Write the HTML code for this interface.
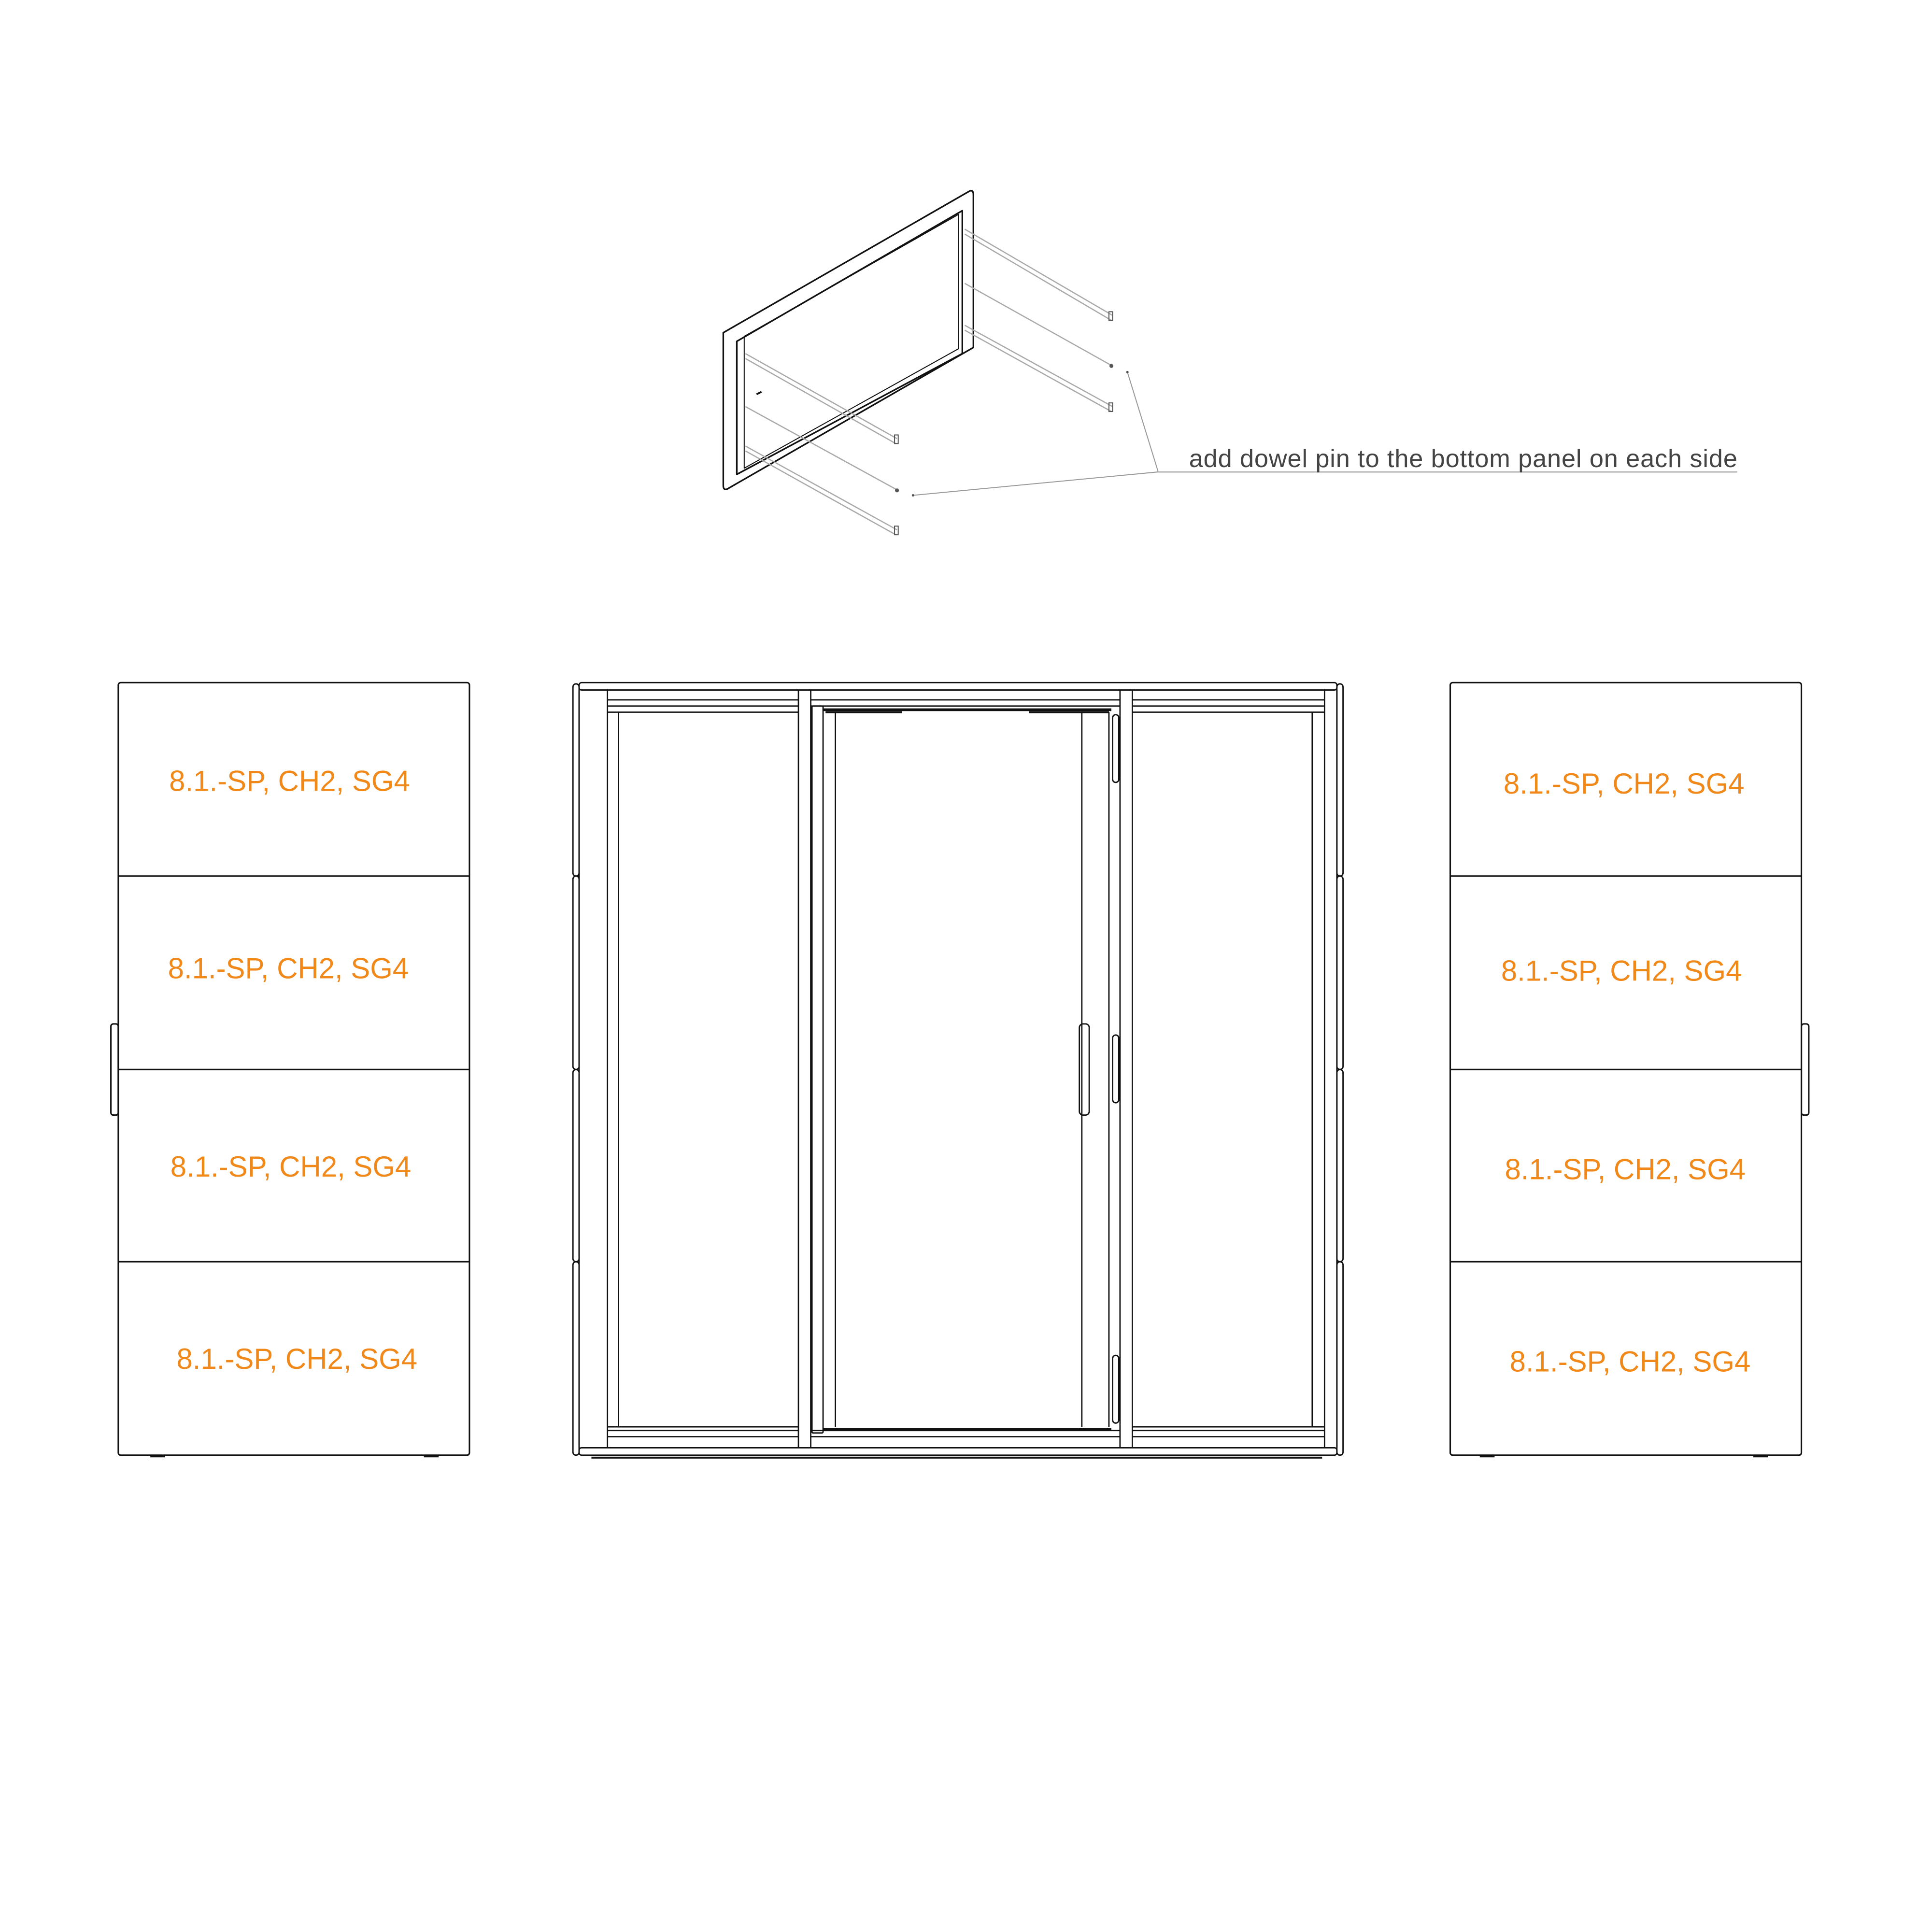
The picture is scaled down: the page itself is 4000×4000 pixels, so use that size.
<!DOCTYPE html>
<html><head><meta charset="utf-8"><style>html,body{margin:0;padding:0;background:#fff}svg{display:block}</style></head>
<body>
<svg width="4000" height="4000" viewBox="0 0 1568 1568" xmlns="http://www.w3.org/2000/svg">
<rect width="1568" height="1568" fill="#fff"/>
<g fill="none" stroke="#111" stroke-width="1.3" stroke-linejoin="round">
<path d="M587 270 L787 155 Q790 154 790 158 L790 282 L590 397 Q587 398 587 394 Z"/>
<path d="M598 277 L781 171 L781 287 L598 385 Z"/>
<path d="M604 273 L778 174 L778 283 L604 380 Z" stroke-width="0.8"/>
<path d="M614 320 L618 318" stroke-width="1.5"/>
</g>
<g stroke="#aaa" stroke-width="1" fill="none">
<path d="M605 287 L728 356 M605 291 L727 360"/>
<path d="M605 330 L727 397"/>
<path d="M605 362 L728 430 M605 366 L727 434"/>
<path d="M783 186 L903 256 M783 190 L902 260"/>
<path d="M783 230 L901 296"/>
<path d="M783 264 L903 330 M783 268 L902 334"/>
<path d="M741 402 L940 383 L915 302" stroke="#999" stroke-width="0.8"/>
<path d="M940 383 L1410 383" stroke="#bbb" stroke-width="1.2"/>
</g>
<g fill="none" stroke="#555" stroke-width="0.8">
<rect x="726" y="353" width="3" height="7"/><rect x="726" y="427" width="3" height="7"/>
<rect x="900" y="253" width="3" height="7"/><rect x="900" y="327" width="3" height="7"/>
</g>
<g fill="#555"><circle cx="728" cy="398" r="1.6"/><circle cx="902" cy="297" r="1.6"/><circle cx="741" cy="402" r="1"/><circle cx="915" cy="302" r="1"/></g>
<text x="965" y="379" font-family="Liberation Sans, sans-serif" font-size="20.5" fill="#444" textLength="445">add dowel pin to the bottom panel on each side</text>

<g fill="none" stroke="#111" stroke-width="1.2">
<rect x="96" y="554" width="285" height="627" rx="2"/>
<path d="M96 711 H381 M96 868 H381 M96 1024 H381"/>
<rect x="90" y="831" width="6" height="74" rx="2"/>
<rect x="1177" y="554" width="285" height="627" rx="2"/>
<path d="M1177 711 H1462 M1177 868 H1462 M1177 1024 H1462"/>
<rect x="1462" y="831" width="6" height="74" rx="2"/>
<path d="M122 1182 H134 M344 1182 H356 M1201 1182 H1213 M1423 1182 H1435" stroke-width="1.5"/>
</g>
<g font-family="Liberation Sans, sans-serif" font-size="23.5" fill="#F0891A" text-anchor="middle">
<text x="235" y="642">8.1.-SP, CH2, SG4</text>
<text x="234" y="794">8.1.-SP, CH2, SG4</text>
<text x="236" y="955">8.1.-SP, CH2, SG4</text>
<text x="241" y="1111">8.1.-SP, CH2, SG4</text>
<text x="1318" y="644">8.1.-SP, CH2, SG4</text>
<text x="1316" y="796">8.1.-SP, CH2, SG4</text>
<text x="1319" y="957">8.1.-SP, CH2, SG4</text>
<text x="1323" y="1113">8.1.-SP, CH2, SG4</text>
</g>

<g fill="none" stroke="#111" stroke-width="1.1">
<rect x="470" y="554" width="615" height="6" rx="2"/>
<rect x="470" y="1175" width="615" height="6" rx="2"/>
<path d="M480 1183 H1073" stroke-width="1.6"/>
<path d="M470 560 V1175 M1085 560 V1175"/>
<rect x="465" y="555" width="5" height="156" rx="2.5"/><rect x="465" y="711" width="5" height="157" rx="2.5"/><rect x="465" y="868" width="5" height="156" rx="2.5"/><rect x="465" y="1024" width="5" height="157" rx="2.5"/>
<rect x="1085" y="555" width="5" height="156" rx="2.5"/><rect x="1085" y="711" width="5" height="157" rx="2.5"/><rect x="1085" y="868" width="5" height="156" rx="2.5"/><rect x="1085" y="1024" width="5" height="157" rx="2.5"/>
<path d="M493 560 V1175 M502 578 V1158 M1065 578 V1158 M1075 560 V1175"/>
<path d="M648 560 V1175 M658 560 V1175 M909 560 V1175 M919 560 V1175"/>
<path d="M493 568 H648 M658 568 H909 M919 568 H1075"/>
<path d="M493 573 H648 M658 573 H909 M919 573 H1075"/>
<path d="M493 578 H648 M919 578 H1075"/>
<path d="M493 1158 H648 M919 1158 H1075"/>
<path d="M493 1161 H648 M658 1161 H909 M919 1161 H1075"/>
<path d="M493 1166 H648 M658 1166 H909 M919 1166 H1075"/>
<rect x="659" y="573" width="9" height="590" rx="1"/>
<path d="M668 576 H902 M668 1160 H902" stroke-width="2.2"/>
<path d="M678 578 V1158 M878 578 V1158 M900 578 V1158"/>
<rect x="903" y="580" width="5" height="55" rx="2.5"/>
<rect x="903" y="840" width="5" height="55" rx="2.5"/>
<rect x="903" y="1100" width="5" height="55" rx="2.5"/>
<rect x="876" y="831" width="8" height="74" rx="3"/>
<path d="M670 578 H732 M835 578 H900" stroke-width="1.6"/>
</g>
</svg>
</body></html>
